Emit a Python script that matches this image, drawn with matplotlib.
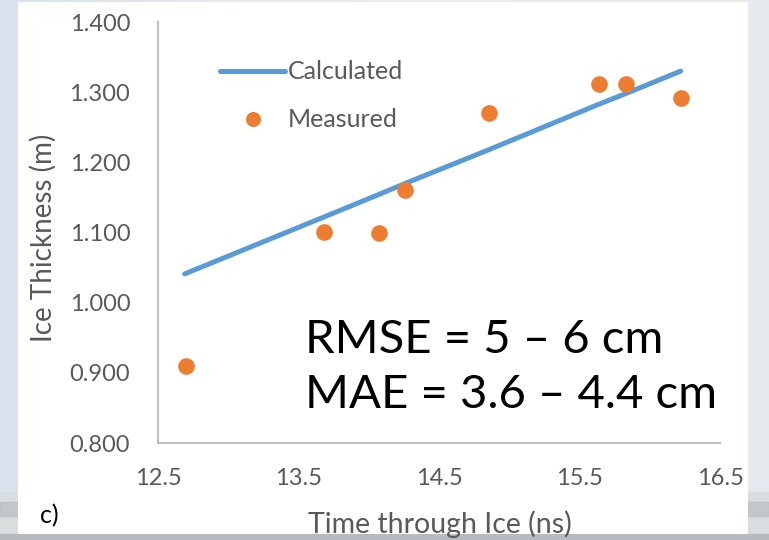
import numpy as np
import matplotlib
matplotlib.use("Agg")
import matplotlib.pyplot as plt
from matplotlib.patches import Rectangle

# Ice thickness vs. two-way travel time
time_ns = [12.70, 13.68, 14.07, 14.26, 14.855, 15.64, 15.83, 16.22]
measured_m = [0.910, 1.101, 1.100, 1.160, 1.271, 1.311, 1.311, 1.292]
calc_time_ns = [12.69, 13.68, 14.07, 14.26, 14.855, 15.64, 15.83, 16.22]
calculated_m = [1.041, 1.122, 1.154, 1.170, 1.218, 1.283, 1.298, 1.330]

x_ticks = [12.5, 13.5, 14.5, 15.5, 16.5]
y_ticks = [0.8, 0.9, 1.0, 1.1, 1.2, 1.3, 1.4]
y_tick_labels = ["0.800", "0.900", "1.000", "1.100", "1.200", "1.300", "1.400"]

stats_lines = ["RMSE = 5 \u2013 6 cm", "MAE = 3.6 \u2013 4.4 cm"]

W, H = 769, 540
fig = plt.figure(figsize=(W / 100, H / 100), dpi=100)
fig.patch.set_facecolor("#e4eaf0")

def px(x0, y0, w, h):
    return [x0 / W, 1 - (y0 + h) / H, w / W, h / H]

# slide backdrop: soft bluish gradient with a snowy horizon at the bottom
bg = fig.add_axes([0, 0, 1, 1], zorder=-3)
grad = np.linspace(0, 1, 256)[None, :]
bg.imshow(grad, extent=[0, 1, 0, 1], aspect="auto",
          cmap=matplotlib.colors.LinearSegmentedColormap.from_list(
              "bk", ["#d9e2ec", "#e9edf1", "#e6eaee"]))
bg.add_patch(Rectangle((0, 0), 1, (H - 492) / H, color="#dadde0"))
bg.add_patch(Rectangle((0, (H - 516) / H), 1, 14 / H, color="#b5b9bd", alpha=0.6))
bg.add_patch(Rectangle((0, 0), 1, (H - 534) / H, color="#b7bbbf"))
bg.set_xlim(0, 1)
bg.set_ylim(0, 1)
bg.axis("off")

# white chart panel
panel = fig.add_axes(px(18, 2, 730, 532), zorder=-2)
panel.set_facecolor("white")
panel.set_xticks([])
panel.set_yticks([])
for s in panel.spines.values():
    s.set_visible(False)

ax = fig.add_axes(px(158, 22, 562, 421))
ax.set_facecolor("none")
ax.set_xlim(12.5, 16.5)
ax.set_ylim(0.8, 1.4)

tick_color = "#595959"
font = "Lato"

ax.plot(calc_time_ns, calculated_m, color="#5b9bd5", lw=3.6,
        solid_capstyle="round", label="Calculated", zorder=3)
ax.plot(time_ns, measured_m, ls="none", marker="o", ms=12,
        color="#ed7d31", mec="none", label="Measured", zorder=4)

ax.set_xticks(x_ticks)
ax.set_xticklabels([f"{t:.1f}" for t in x_ticks], fontsize=17,
                   color=tick_color, family=font)
ax.set_yticks(y_ticks)
ax.set_yticklabels(y_tick_labels, fontsize=17, color=tick_color, family=font)
ax.tick_params(axis="both", length=0)
ax.tick_params(axis="x", pad=18)
ax.tick_params(axis="y", pad=20)

for side in ("top", "right"):
    ax.spines[side].set_visible(False)
for side in ("left", "bottom"):
    ax.spines[side].set_color("#bfbfbf")
    ax.spines[side].set_linewidth(1.5)

leg = ax.legend(loc="upper left", bbox_to_anchor=(0.071, 0.962), frameon=False,
                prop={"family": font, "size": 18}, handlelength=2.6,
                handletextpad=0.1, labelspacing=1.0, markerscale=0.9)
for t in leg.get_texts():
    t.set_color(tick_color)

ax.text(305, 540 - 353, stats_lines[0], transform=None, fontsize=34,
        family=font, fontweight="normal", color="black", va="baseline")
ax.text(305, 540 - 408, stats_lines[1], transform=None, fontsize=34,
        family=font, fontweight="normal", color="black", va="baseline")

fig.text(43 / W, 1 - 238 / H, "Ice Thickness (m)", rotation=90, ha="center",
         va="center", fontsize=20, color=tick_color, family=font)
fig.text(440 / W, 1 - 524 / H, "Time through Ice (ns)", ha="center",
         va="center", fontsize=20.5, color=tick_color, family=font)
fig.text(40 / W, 1 - 516 / H, "c)", ha="left", va="center", fontsize=18,
         color="black", family=font)

fig.savefig("out.png", dpi=100, facecolor=fig.get_facecolor())
